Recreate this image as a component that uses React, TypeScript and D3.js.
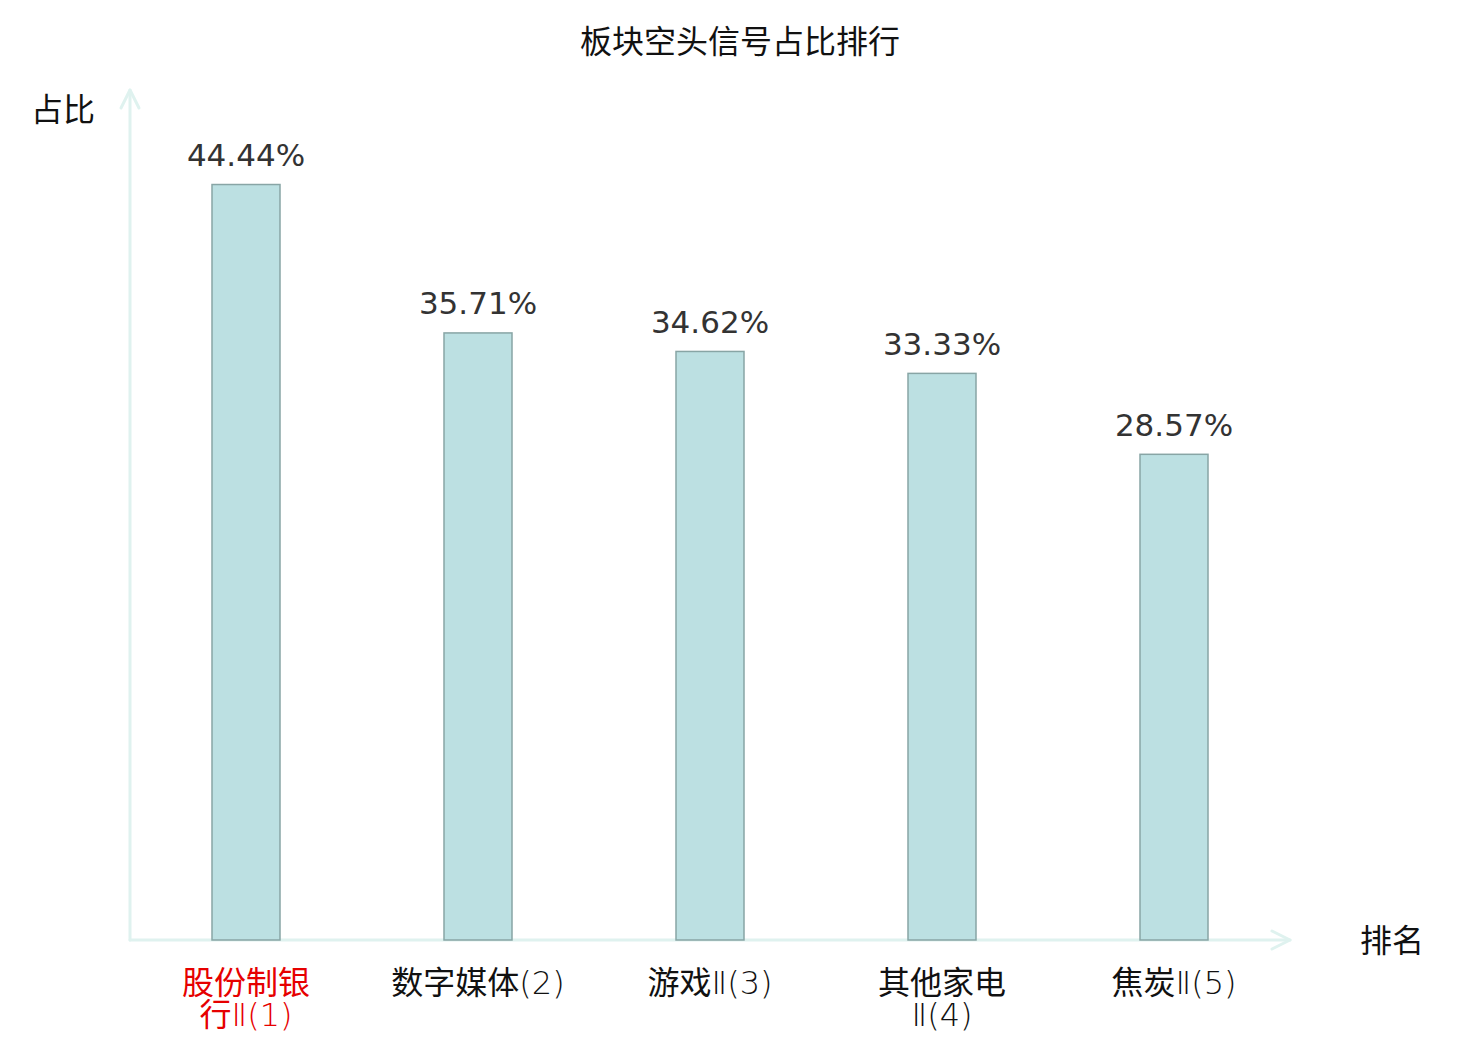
import React, { useEffect, useRef } from 'react';
import * as d3 from 'd3';

const title = '板块空头信号占比排行';
const categories = ['股份制银行Ⅱ', '数字媒体', '游戏Ⅱ', '其他家电Ⅱ', '焦炭Ⅱ'];
const ranks = [1, 2, 3, 4, 5];
const values = [44.44, 35.71, 34.62, 33.33, 28.57];
const highlight = [true, false, false, false, false];
const yAxisName = '占比';
const xAxisName = '排名';

export default function App() {
    const ref = useRef<SVGSVGElement | null>(null);

    useEffect(() => {
        const svg = d3.select(ref.current);
        svg.selectAll('*').remove();
        const width = 1480, height = 1040;
        const margin = { top: 90, right: 190, bottom: 100, left: 130 };
        const axisColor = '#dff2ef';
        const numFont = '"DejaVu Sans", "Noto Sans CJK SC", sans-serif';
        const labelFont = '"Noto Sans CJK SC", sans-serif';

        svg.attr('viewBox', `0 0 ${width} ${height}`);

        const x = d3.scaleBand<string>().domain(categories).range([margin.left, width - margin.right]);
        const y = d3.scaleLinear().domain([0, 50]).range([height - margin.bottom, margin.top]);
        const barW = 68;
        const y0 = y(0);

        // title
        svg.append('text')
            .attr('x', width / 2).attr('y', 44)
            .attr('text-anchor', 'middle').attr('dominant-baseline', 'middle')
            .attr('font-family', labelFont).attr('font-size', 32).attr('fill', '#111')
            .text(title);

        // axes
        const axes = svg.append('g').attr('fill', 'none').attr('stroke', axisColor)
            .attr('stroke-width', 3).attr('stroke-linecap', 'round').attr('stroke-linejoin', 'round');
        axes.append('line').attr('x1', margin.left).attr('x2', margin.left).attr('y1', y0).attr('y2', y(50));
        axes.append('path').attr('d', `M${margin.left - 9},${y(50) + 18}L${margin.left},${y(50)}L${margin.left + 9},${y(50) + 18}`);
        axes.append('line').attr('x1', margin.left).attr('x2', width - margin.right).attr('y1', y0).attr('y2', y0);
        axes.append('path').attr('d', `M${width - margin.right - 18},${y0 - 9}L${width - margin.right},${y0}L${width - margin.right - 18},${y0 + 9}`);

        svg.append('text').attr('x', 63).attr('y', 112)
            .attr('text-anchor', 'middle').attr('dominant-baseline', 'middle')
            .attr('font-family', labelFont).attr('font-size', 32).attr('fill', '#111')
            .text(yAxisName);
        svg.append('text').attr('x', 1392).attr('y', 943)
            .attr('text-anchor', 'middle').attr('dominant-baseline', 'middle')
            .attr('font-family', labelFont).attr('font-size', 32).attr('fill', '#111')
            .text(xAxisName);

        // bars
        svg.selectAll('rect.bar').data(values).join('rect')
            .attr('class', 'bar')
            .attr('x', (_d, i) => (x(categories[i]) as number) + x.bandwidth() / 2 - barW / 2)
            .attr('y', d => y(d))
            .attr('width', barW)
            .attr('height', d => y0 - y(d))
            .attr('fill', '#bce0e2')
            .attr('stroke', '#88a5a5')
            .attr('stroke-width', 1.5);

        // value labels
        svg.selectAll('text.val').data(values).join('text')
            .attr('class', 'val')
            .attr('x', (_d, i) => (x(categories[i]) as number) + x.bandwidth() / 2)
            .attr('y', d => y(d) - 27)
            .attr('text-anchor', 'middle').attr('dominant-baseline', 'middle')
            .attr('font-family', numFont).attr('font-size', 31).attr('fill', '#333')
            .text(d => d.toFixed(2) + '%');

        // category labels: name wrapped every 4 chars, then rank appended
        categories.forEach((c, i) => {
            const cx = (x(c) as number) + x.bandwidth() / 2;
            const chars = Array.from(c);
            const lines: string[] = [];
            for (let k = 0; k < chars.length; k += 4) lines.push(chars.slice(k, k + 4).join(''));
            lines[lines.length - 1] += `(${ranks[i]})`;
            lines.forEach((ln, k) => {
                const t = svg.append('text')
                    .attr('x', cx).attr('y', 994 + k * 32)
                    .attr('text-anchor', 'middle')
                    .attr('font-size', 32)
                    .attr('fill', highlight[i] ? '#e60000' : '#111');
                // CJK runs in regular weight, latin/roman runs in DejaVu ExtraLight
                const runs = ln.match(/[\u4e00-\u9fff]+|[^\u4e00-\u9fff]+/g) || [];
                runs.forEach(r => {
                    const cjk = /[\u4e00-\u9fff]/.test(r);
                    t.append('tspan')
                        .attr('font-family', cjk ? labelFont : '"DejaVu Sans", sans-serif')
                        .attr('font-weight', cjk ? 400 : 200)
                        .text(r);
                });
            });
        });
    }, []);

    return <svg ref={ref} width={1480} height={1040} style={{ position: 'absolute', left: 0, top: 0, background: '#fff' }} />;
}
